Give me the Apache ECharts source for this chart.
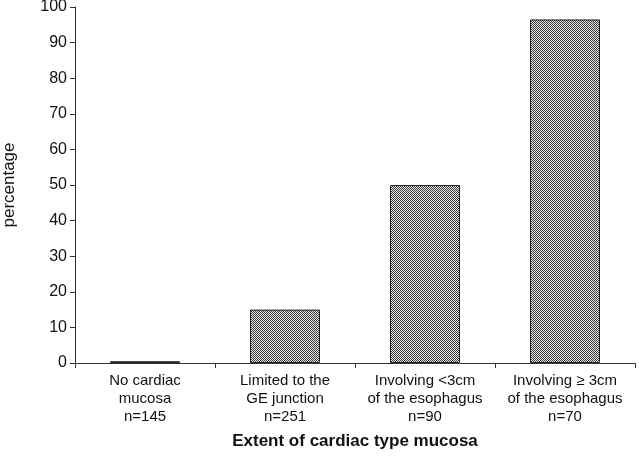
<!DOCTYPE html>
<html><head><meta charset="utf-8">
<script src="https://cdn.jsdelivr.net/npm/echarts@6/dist/echarts.min.js"></script>
<style>html,body{margin:0;padding:0;background:#fff}#c{width:639px;height:459px}</style>
</head><body><div id="c"></div>
<script>
const categories = ["No cardiac\nmucosa\nn=145", "Limited to the\nGE junction\nn=251", "Involving <3cm\nof the esophagus\nn=90", "Involving \u2265 3cm\nof the esophagus\nn=70"];
const values = [0.5, 15, 50, 96.5];
const yTicks = [0, 10, 20, 30, 40, 50, 60, 70, 80, 90, 100];

const pc = document.createElement('canvas');
pc.width = 2; pc.height = 2;
const ctx = pc.getContext('2d');
ctx.fillStyle = '#e8e8e8'; ctx.fillRect(0,0,2,2);
ctx.fillStyle = '#3a3a3a'; ctx.fillRect(0,0,1,1); ctx.fillRect(1,1,1,1);

const chart = echarts.init(document.getElementById('c'));
chart.setOption({
  animation: false,
  grid: {left: 75, right: 4, top: 7, bottom: 96, containLabel: false, outerBoundsMode: 'none'},
  xAxis: {
    type: 'category', data: categories,
    name: 'Extent of cardiac type mucosa', nameLocation: 'middle', nameGap: 70,
    nameTextStyle: {fontFamily: 'Liberation Sans', fontSize: 17, fontWeight: 'bold', color: '#111'},
    axisLine: {lineStyle: {color: '#333', width: 1}},
    axisTick: {show: true, alignWithLabel: false, length: 5, lineStyle: {color: '#333'}},
    axisLabel: {fontFamily: 'Liberation Sans', fontSize: 15, color: '#111', lineHeight: 18, margin: 9, interval: 0}
  },
  yAxis: {
    type: 'value', min: 0, max: 100, interval: 10,
    name: 'percentage', nameLocation: 'middle', nameGap: 57, nameRotate: 90,
    nameTextStyle: {fontFamily: 'Liberation Sans', fontSize: 17, color: '#111'},
    axisLine: {show: true, lineStyle: {color: '#333', width: 1}},
    axisTick: {show: true, length: 5, lineStyle: {color: '#333'}},
    splitLine: {show: false},
    axisLabel: {fontFamily: 'Liberation Sans', fontSize: 16, color: '#111', margin: 8,
      formatter: v => yTicks.includes(v) ? String(v) : ''}
  },
  series: [{
    type: 'bar', data: values, barWidth: '50%',
    itemStyle: {color: {image: pc, repeat: 'repeat'}, borderColor: '#222', borderWidth: 1}
  }]
});
</script></body></html>
